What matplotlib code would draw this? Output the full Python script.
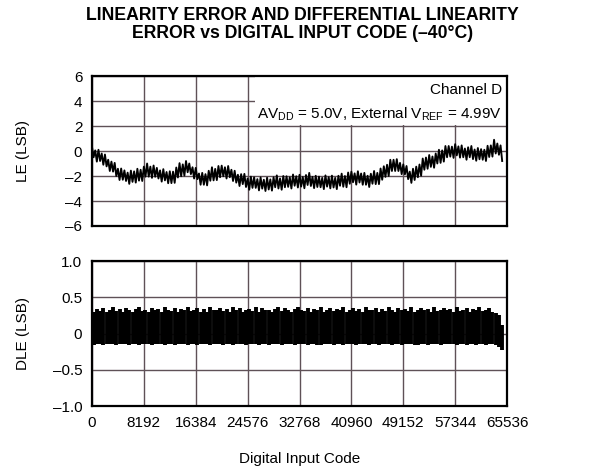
import numpy as np
import matplotlib.pyplot as plt
from matplotlib.patches import Rectangle

plt.rcParams['font.family'] = ['Liberation Sans', 'DejaVu Sans']
plt.rcParams['mathtext.default'] = 'regular'

le_codes = np.arange(127) * 512
le_high = [
    0.35, 0.05, 0.10, -0.20, -0.28, -0.70, -0.85, -0.95, -1.42, -1.40,
    -1.55, -1.73, -1.57, -1.63, -1.42, -1.50, -1.25, -1.00, -1.25, -1.16,
    -1.35, -1.55, -1.45, -1.68, -1.62, -1.65, -1.32, -0.97, -1.07, -0.80,
    -1.00, -1.30, -1.35, -1.80, -1.75, -1.85, -1.58, -1.30, -1.43, -1.20,
    -1.17, -1.30, -1.20, -1.50, -1.58, -1.90, -1.85, -1.83, -2.20, -2.05,
    -2.10, -2.25, -2.11, -2.30, -2.13, -2.27, -2.10, -1.95, -2.20, -2.00,
    -2.02, -2.10, -1.88, -2.02, -1.90, -2.08, -1.92, -1.75, -2.07, -1.98,
    -2.05, -2.15, -1.95, -2.09, -1.97, -2.15, -1.98, -1.81, -2.00, -1.72,
    -1.65, -1.79, -1.62, -1.80, -1.75, -1.98, -1.82, -1.60, -1.75, -1.40,
    -1.22, -1.10, -0.70, -0.70, -0.65, -0.95, -1.07, -1.20, -1.65, -1.42,
    -1.25, -1.08, -0.60, -0.52, -0.32, -0.44, -0.20, 0.10, 0.05, 0.40,
    0.40, 0.35, 0.55, 0.37, 0.45, 0.20, 0.30, 0.40, 0.12, 0.24,
    0.15, 0.10, 0.42, 0.45, 0.90, 0.60, 0.45,
]
le_low = [
    -0.50, -0.85, -0.80, -1.10, -1.23, -1.60, -1.65, -2.00, -2.32, -2.30,
    -2.40, -2.63, -2.47, -2.53, -2.37, -2.40, -2.05, -2.05, -2.15, -2.06,
    -2.20, -2.45, -2.35, -2.58, -2.57, -2.55, -2.12, -2.02, -1.97, -1.70,
    -1.85, -2.20, -2.25, -2.70, -2.70, -2.75, -2.38, -2.35, -2.33, -2.10,
    -2.02, -2.20, -2.10, -2.40, -2.53, -2.80, -2.65, -2.88, -3.10, -2.95,
    -2.95, -3.15, -3.01, -3.20, -3.08, -3.17, -2.90, -3.00, -3.10, -2.90,
    -2.87, -3.00, -2.78, -2.92, -2.85, -2.98, -2.72, -2.80, -2.97, -2.88,
    -2.90, -3.05, -2.85, -2.99, -2.92, -3.05, -2.78, -2.86, -2.90, -2.62,
    -2.50, -2.69, -2.52, -2.70, -2.70, -2.88, -2.62, -2.65, -2.65, -2.30,
    -2.07, -2.00, -1.60, -1.60, -1.60, -1.85, -1.87, -2.25, -2.55, -2.32,
    -2.10, -1.98, -1.50, -1.42, -1.27, -1.34, -1.00, -0.95, -0.85, -0.50,
    -0.45, -0.55, -0.35, -0.53, -0.50, -0.70, -0.50, -0.65, -0.78, -0.66,
    -0.70, -0.80, -0.48, -0.45, -0.20, -0.30, -0.80,
]

dle_codes = np.arange(127) * 512 + 256
dle_high = [
    0.30, 0.34, 0.31, 0.35, 0.29, 0.33, 0.36, 0.31, 0.34, 0.30,
    0.35, 0.32, 0.29, 0.34, 0.36, 0.31, 0.33, 0.30, 0.35, 0.32,
    0.34, 0.29, 0.36, 0.33, 0.31, 0.35, 0.30, 0.34, 0.32, 0.36,
    0.31, 0.33, 0.35, 0.30, 0.34, 0.29, 0.36, 0.32, 0.33, 0.35,
    0.31, 0.34, 0.30, 0.36, 0.32, 0.35, 0.29, 0.33, 0.34, 0.31,
    0.36, 0.30, 0.35, 0.32, 0.33, 0.29, 0.34, 0.36, 0.31, 0.35,
    0.32, 0.30, 0.34, 0.36, 0.33, 0.31, 0.35, 0.29, 0.34, 0.32,
    0.36, 0.30, 0.33, 0.35, 0.31, 0.34, 0.32, 0.36, 0.29, 0.33,
    0.35, 0.31, 0.34, 0.30, 0.36, 0.32, 0.33, 0.35, 0.29, 0.34,
    0.31, 0.36, 0.32, 0.30, 0.35, 0.33, 0.34, 0.31, 0.36, 0.29,
    0.33, 0.35, 0.32, 0.34, 0.30, 0.36, 0.31, 0.33, 0.35, 0.32,
    0.34, 0.29, 0.36, 0.31, 0.33, 0.35, 0.30, 0.34, 0.32, 0.36,
    0.31, 0.33, 0.35, 0.30, 0.28, 0.25, 0.12,
]
dle_low = [
    -0.16, -0.14, -0.15, -0.16, -0.15, -0.14, -0.15, -0.16, -0.14, -0.15,
    -0.15, -0.16, -0.14, -0.15, -0.16, -0.15, -0.14, -0.15, -0.16, -0.14,
    -0.14, -0.15, -0.16, -0.14, -0.15, -0.16, -0.15, -0.14, -0.15, -0.16,
    -0.15, -0.14, -0.16, -0.15, -0.14, -0.15, -0.16, -0.14, -0.15, -0.15,
    -0.16, -0.15, -0.14, -0.16, -0.15, -0.14, -0.15, -0.16, -0.14, -0.15,
    -0.14, -0.16, -0.15, -0.14, -0.16, -0.15, -0.15, -0.14, -0.16, -0.15,
    -0.15, -0.14, -0.16, -0.15, -0.14, -0.15, -0.16, -0.15, -0.14, -0.16,
    -0.16, -0.15, -0.14, -0.15, -0.16, -0.14, -0.15, -0.16, -0.15, -0.14,
    -0.14, -0.16, -0.15, -0.14, -0.15, -0.16, -0.14, -0.15, -0.16, -0.15,
    -0.15, -0.14, -0.16, -0.15, -0.14, -0.16, -0.15, -0.14, -0.15, -0.16,
    -0.16, -0.15, -0.14, -0.16, -0.15, -0.14, -0.15, -0.16, -0.14, -0.15,
    -0.14, -0.15, -0.16, -0.15, -0.14, -0.16, -0.15, -0.14, -0.16, -0.15,
    -0.15, -0.16, -0.14, -0.15, -0.16, -0.18, -0.23,
]

x_ticks = [0, 8192, 16384, 24576, 32768, 40960, 49152, 57344, 65536]
le_ticks = [-6, -4, -2, 0, 2, 4, 6]
le_tick_labels = ['\u20136', '\u20134', '\u20132', '0', '2', '4', '6']
dle_ticks = [-1.0, -0.5, 0, 0.5, 1.0]
dle_tick_labels = ['\u20131.0', '\u20130.5', '0', '0.5', '1.0']

grid_col = '#5f5157'
fs = 11

fig = plt.figure(figsize=(6.14, 4.73), dpi=100)
ax1 = fig.add_axes([0.1498, 0.5222, 0.676, 0.3171])
ax2 = fig.add_axes([0.1498, 0.1416, 0.676, 0.3066])

for ax in (ax1, ax2):
    ax.set_xlim(0, 65536)
    ax.set_xticks(x_ticks)
    ax.grid(True, color=grid_col, linewidth=1.0)
    ax.set_axisbelow(True)
    ax.tick_params(length=0, labelsize=fs, pad=7)
    for s in ax.spines.values():
        s.set_linewidth(1.6)
        s.set_color('black')

# trace runs high -> low -> high ... through the read-off extremes
le_x = np.column_stack([le_codes, le_codes + 256]).ravel()
le_y = np.column_stack([le_high, le_low]).ravel()
ax1.plot(le_x, le_y, color='black', linewidth=1.35, zorder=2)
ax1.set_ylim(-6, 6)
ax1.set_yticks(le_ticks)
ax1.set_yticklabels(le_tick_labels)
ax1.set_xticklabels([])
ax1.set_ylabel('LE (LSB)', fontsize=fs)
ax1.yaxis.set_label_coords(-0.15, 0.5)
ax1.add_patch(Rectangle((0.393, 0.672), 0.607, 0.328, transform=ax1.transAxes,
                        facecolor='white', edgecolor='none', zorder=1.5))
ax1.text(0.988, 0.955, 'Channel D', transform=ax1.transAxes, ha='right', va='top',
         fontsize=fs, zorder=3)
ax1.text(0.988, 0.80, 'AV$_{DD}$ = 5.0V, External V$_{REF}$ = 4.99V',
         transform=ax1.transAxes, ha='right', va='top', fontsize=fs, zorder=3)

ax2.vlines(dle_codes, dle_low, dle_high, color='black', linewidth=2.8, zorder=2)
ax2.set_ylim(-1.0, 1.0)
ax2.set_yticks(dle_ticks)
ax2.set_yticklabels(dle_tick_labels)
ax2.set_ylabel('DLE (LSB)', fontsize=fs)
ax2.yaxis.set_label_coords(-0.15, 0.5)
ax2.set_xlabel('Digital Input Code', fontsize=fs, labelpad=16)

fig.text(0.493, 0.985, 'LINEARITY ERROR AND DIFFERENTIAL LINEARITY\nERROR vs DIGITAL INPUT CODE (\u201340\u00b0C)',
         ha='center', va='top', fontsize=12.7, fontweight='bold', linespacing=1.1)

fig.savefig('out.png', dpi=100)
